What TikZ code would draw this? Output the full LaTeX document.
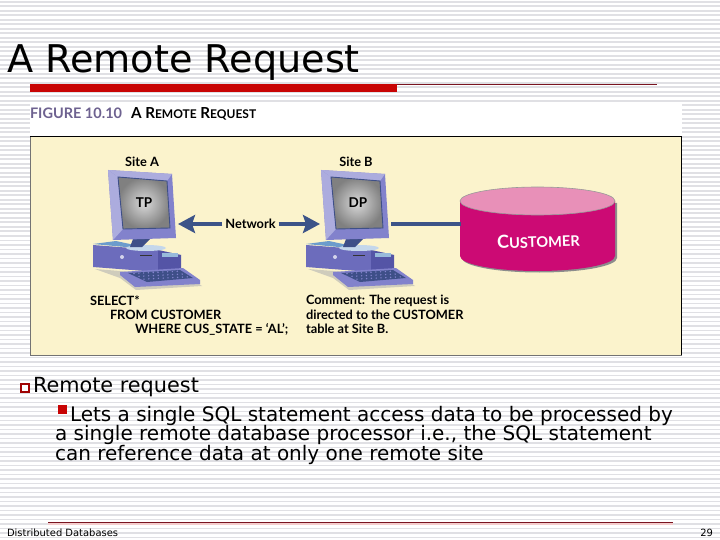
\documentclass[tikz,border=0pt]{standalone}
\usepackage{fontspec}
\setmainfont{DejaVu Sans}
\newfontfamily\figfont{Lato}
\usetikzlibrary{arrows.meta}
\usetikzlibrary{calc}

\definecolor{slidered}{HTML}{C80404}
\definecolor{darkred}{HTML}{7A1420}
\definecolor{stripe}{HTML}{E0E0E4}
\definecolor{panel}{HTML}{FBF3CC}
\definecolor{navy}{HTML}{3C5388}
\definecolor{figpurple}{HTML}{6E6290}
\definecolor{monfront}{HTML}{8282CC}
\definecolor{monside}{HTML}{ACACDE}
\definecolor{casefront}{HTML}{6C6CBC}
\definecolor{caseside}{HTML}{5454A6}
\definecolor{casetop}{HTML}{6C9CCC}
\definecolor{keydark}{HTML}{3E4F88}
\definecolor{dbbody}{HTML}{CC0A74}
\definecolor{dbtop}{HTML}{E890B8}

\tikzset{
  every node/.style={inner sep=0pt, outer sep=0pt},
  slidetext/.style={anchor=base west, text=black},
  figtext/.style={font=\figfont\bfseries\fontsize{12.8}{12.8}\selectfont, text=black},
  figline/.style={figtext, anchor=base west},
  netarrow/.style={navy, line width=4.5pt, -{Stealth[length=17pt, width=18pt, inset=3pt]}},
  pics/computer/.style={code={
    % case
    \fill[black!30, opacity=0.6] (-13,99) -- (50,104) -- (75,103) -- (94,116) -- (28,120) -- (12,108) -- cycle;
    \fill[casetop] (-15,74) -- (8,71) -- (73,85) -- (50,80) -- cycle;
    \fill[casefront] (-15,75) -- (50,80) -- (50,102) -- (-15,97) -- cycle;
    \fill[caseside] (50,80) -- (73,85) -- (73,100) -- (50,102) -- cycle;
    \fill[white!70!casefront] (14,87) circle (2);
    \fill[black!80] (32,84.5) rectangle (44,86);
    \fill[casetop!70!white] (54,83) rectangle (70,87);
    % keyboard
    \fill[monfront] (12,102) -- (75,98) -- (92,110) -- (92,114) -- (27,117) -- (12,105) -- cycle;
    \fill[keydark] (20,103) -- (72,100) -- (85,108) -- (39,112) -- cycle;
    \foreach \ky in {0,1,2}
      \foreach \kx in {0,...,9}
        \fill[monfront] ({26+\kx*4.8+\ky*5},{103.5+\ky*2.8-\kx*0.25}) circle (0.8);
    % stand
    \fill[casetop!40!white] (38,78) ellipse (20 and 3);
    \fill[keydark] (25,69) -- (42,69) -- (34,77) -- (22,77) -- cycle;
    % monitor
    \fill[monfront] (0,0) -- (64,4) -- (68,68) -- (5,70) -- cycle;
    \fill[monside] (0,0) -- (64,4) -- (59,11) -- (10,7) -- cycle;
    \fill[monside] (0,0) -- (10,7) -- (15,59) -- (5,70) -- cycle;
    \shade[inner color=black!15, outer color=black!50, draw=keydark, line width=0.9pt]
      (10,7) -- (59,11) -- (62,58) -- (15,59) -- cycle;
    \coordinate (-left) at (-1,54);
    \coordinate (-right) at (70,54);
  }}
}

\begin{document}
\begin{tikzpicture}[x=1pt, y=-1pt]
  \useasboundingbox (0,0) rectangle (720,540);
  \fill[white] (0,0) rectangle (720,540);
  \foreach \yy in {1,5.5,...,538}
    \fill[stripe] (0,\yy) rectangle (720,\yy+1.8);

  \node[slidetext, font=\fontsize{38.2}{38.2}\selectfont] (title) at (7,72.7) {A Remote Request};
  \fill[slidered] (30,84) rectangle (397,92.5);
  \draw[darkred, line width=0.8pt] (397,84.5) -- (657,84.5);

  \fill[white] (30,104) rectangle (682,137);
  \draw[black!55, fill=panel, line width=1pt] (30,137) rectangle (681.5,355);
  \draw[black!55, line width=1.6pt] (30,355.5) -- (682,355.5);
  \draw[black, line width=1pt] (30,137) -- (681.5,137) -- (681.5,355);

  \node[anchor=base west, font=\figfont\bfseries\fontsize{14.5}{14.5}\selectfont, text=figpurple] (figno) at (30,118.5) {FIGURE 10.10};
  \node[anchor=base west, font=\figfont\bfseries\fontsize{15.2}{15.2}\selectfont] (figtitle) at (131,118.5)
    {A R{\fontsize{12}{12}\selectfont EMOTE} R{\fontsize{12}{12}\selectfont EQUEST}};

  \pic (sitea) at (108,170) {computer};
  \pic (siteb) at (321,170) {computer};

  \node[figtext] (labela) at (142,162) {Site A};
  \node[figtext] (labelb) at (356,162) {Site B};
  \node[figtext, font=\figfont\bfseries\fontsize{13.5}{13.5}\selectfont] (tp) at (144,203) {TP};
  \node[figtext, font=\figfont\bfseries\fontsize{13.5}{13.5}\selectfont] (dp) at (358,203) {DP};
  \node[figtext] (network) at (250.5,224) {Network};

  % database
  \fill[black!45] (462,203) -- (617,203) -- (617,258) arc[start angle=0, end angle=180, x radius=77.5, y radius=14.5] -- cycle;
  \fill[dbbody] (460,201) -- (615,201) -- (615,256) arc[start angle=0, end angle=180, x radius=77.5, y radius=15] -- cycle;
  \fill[dbtop, draw=black!40, line width=0.6pt] (537.5,201) ellipse (77.5 and 14);
  \node[font=\figfont\bfseries\fontsize{18}{18}\selectfont, text=white, rotate=2] (customer) at (538.5,241)
    {C{\fontsize{14.6}{14.6}\selectfont USTOMER}};
  \coordinate (dbleft) at (460.5,224);

  \draw[netarrow] ($(network.west)+(-3,0)$) -- (sitea-right);
  \draw[netarrow] ($(network.east)+(3,0)$) -- (siteb-left);
  \draw[navy, line width=4.5pt] (siteb-right) -- (dbleft);

  \node[figline] (sel1) at (90,305) {SELECT*};
  \node[figline] (sel2) at (110,319) {FROM CUSTOMER};
  \node[figline] (sel3) at (135,333) {WHERE CUS\_STATE = ‘AL’;};
  \node[figline] (com1) at (306,304.5) {Comment: The request is};
  \node[figline] (com2) at (306,319) {directed to the CUSTOMER};
  \node[figline] (com3) at (306,333) {table at Site B.};

  \draw[slidered!80!black, fill=white, line width=1.1pt] (21,384) rectangle (29,392);
  \node[slidetext, font=\fontsize{20.8}{20.8}\selectfont] (item) at (33,392) {Remote request};
  \fill[slidered] (58,405) rectangle (67,414);
  \node[slidetext, font=\fontsize{20}{20}\selectfont] (sub1) at (70,421) {Lets a single SQL statement access data to be processed by};
  \node[slidetext, font=\fontsize{20}{20}\selectfont] (sub2) at (55,440) {a single remote database processor i.e., the SQL statement};
  \node[slidetext, font=\fontsize{20}{20}\selectfont] (sub3) at (55,460) {can reference data at only one remote site};

  \fill[slidered!20] (48,522) rectangle (673,525);
  \draw[darkred, line width=0.9pt] (48,522) -- (673,522);
  \node[slidetext, font=\fontsize{9.95}{9.95}\selectfont] (footer) at (7,536) {Distributed Databases};
  \node[anchor=base east, font=\fontsize{9.95}{9.95}\selectfont] (page) at (713,536) {29};
\end{tikzpicture}
\end{document}
